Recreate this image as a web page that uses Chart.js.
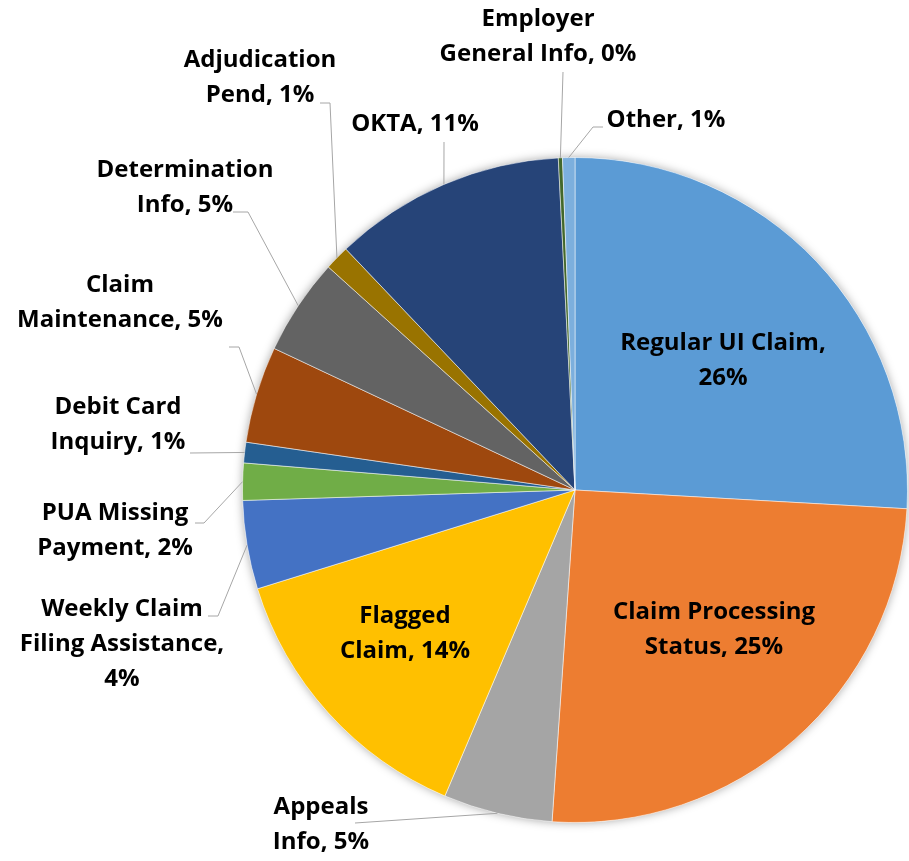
<!DOCTYPE html>
<html>
<head>
<meta charset="utf-8">
<script src="https://cdn.jsdelivr.net/npm/chart.js@4.4.0/dist/chart.umd.min.js"></script>
<style>
  html, body { margin: 0; padding: 0; background: #fff; }
  #wrap { width: 909px; height: 861px; }
</style>
</head>
<body>
<div id="wrap"><canvas id="pie-chart" width="909" height="861"></canvas></div>
<script>
// Categories, clockwise from 12 o'clock
const categories = [
  "Regular UI Claim", "Claim Processing Status", "Appeals Info", "Flagged Claim",
  "Weekly Claim Filing Assistance", "PUA Missing Payment", "Debit Card Inquiry",
  "Claim Maintenance", "Determination Info", "Adjudication Pend", "OKTA",
  "Employer General Info", "Other"
];
// Share of contacts in %
const shares = [25.9, 25.2, 5.3, 13.8, 4.3, 1.8, 1.0, 4.7, 4.7, 1.2, 11.3, 0.2, 0.6];

const sliceColors = [
  '#5B9BD5', '#ED7D31', '#A5A5A5', '#FFC000', '#4472C4', '#70AD47', '#255E91',
  '#9E480E', '#636363', '#997300', '#264478', '#43682B', '#7CAFDD'
];

// Label placement: text block centre (px from pie centre), words per line
// (last line gets the rest), leader start (px from text centre), elbow = flat bit
const labelLayout = [
  { at: [148, -129], lines: [3] },
  { at: [139, 140], lines: [2] },
  { at: [-254, 335], lines: [1], lead: [34, -2], elbow: 0 },
  { at: [-170, 144], lines: [1] },
  { at: [-453, 154], lines: [2, 2], lead: [86, -28], elbow: 10 },
  { at: [-460, 41], lines: [2], lead: [80, -8], elbow: 9 },
  { at: [-457, -65], lines: [2], lead: [72, 28], elbow: 0 },
  { at: [-455, -187], lines: [1], lead: [109, 44], elbow: 10 },
  { at: [-390, -302], lines: [1], lead: [48, 24], elbow: 15 },
  { at: [-315, -412], lines: [1], lead: [60, 25], elbow: 10 },
  { at: [-160, -366], lines: [], lead: [29, 18], elbow: 0 },
  { at: [-37, -453], lines: [1], lead: [25, 35], elbow: 0 },
  { at: [91, -370], lines: [], lead: [-63, 7], elbow: -10 }
];

const labelFont = 'bold 24px "Open Sans"';
const lineHeight = 35;

// soft shadow behind the whole pie
const pieShadow = {
  id: 'pieShadow',
  beforeDatasetsDraw(chart) {
    const arc = chart.getDatasetMeta(0).data[0];
    if (!arc) return;
    const { x, y, outerRadius } = arc.getProps(['x', 'y', 'outerRadius'], true);
    const ctx = chart.ctx;
    ctx.save();
    ctx.shadowColor = 'rgba(0,0,0,0.35)';
    ctx.shadowBlur = 10;
    ctx.beginPath();
    ctx.arc(x, y, outerRadius, 0, Math.PI * 2);
    ctx.fillStyle = '#fff';
    ctx.fill();
    ctx.restore();
  }
};

// data labels with leader lines
const pieLabels = {
  id: 'pieLabels',
  afterDatasetsDraw(chart) {
    const ctx = chart.ctx;
    const values = chart.data.datasets[0].data;
    const total = values.reduce((a, b) => a + b, 0);
    chart.getDatasetMeta(0).data.forEach((arc, i) => {
      const p = arc.getProps(['x', 'y', 'startAngle', 'endAngle', 'outerRadius'], true);
      const mid = (p.startAngle + p.endAngle) / 2;
      const ax = p.x + Math.cos(mid) * p.outerRadius;
      const ay = p.y + Math.sin(mid) * p.outerRadius;
      const lay = labelLayout[i];
      const cx = p.x + lay.at[0];
      const cy = p.y + lay.at[1];

      if (lay.lead) {
        const sx = cx + lay.lead[0];
        const sy = cy + lay.lead[1];
        ctx.save();
        ctx.strokeStyle = '#A6A6A6';
        ctx.lineWidth = 1;
        ctx.beginPath();
        ctx.moveTo(sx, sy);
        if (lay.elbow) ctx.lineTo(sx + lay.elbow, sy);
        ctx.lineTo(ax, ay);
        ctx.stroke();
        ctx.restore();
      }

      const pct = Math.round(values[i] / total * 100);
      const words = (chart.data.labels[i] + ', ' + pct + '%').split(' ');
      const lines = [];
      let k = 0;
      lay.lines.forEach(n => { lines.push(words.slice(k, k + n).join(' ')); k += n; });
      lines.push(words.slice(k).join(' '));

      ctx.save();
      ctx.font = labelFont;
      ctx.fillStyle = '#000';
      ctx.textAlign = 'center';
      ctx.textBaseline = 'middle';
      const top = cy - (lines.length - 1) * lineHeight / 2;
      lines.forEach((t, j) => ctx.fillText(t, cx, top + j * lineHeight));
      ctx.restore();
    });
  }
};

const ctx = document.getElementById('pie-chart').getContext('2d');
const pieChart = new Chart(ctx, {
  type: 'pie',
  data: {
    labels: categories,
    datasets: [{
      data: shares,
      backgroundColor: sliceColors,
      borderColor: 'rgba(255,255,255,0.5)',
      borderWidth: 1
    }]
  },
  options: {
    responsive: false,
    animation: false,
    layout: { padding: { left: 242, right: 1, top: 157, bottom: 38 } },
    plugins: {
      legend: { display: false },
      tooltip: { enabled: false }
    }
  },
  plugins: [pieShadow, pieLabels]
});
</script>
</body>
</html>
